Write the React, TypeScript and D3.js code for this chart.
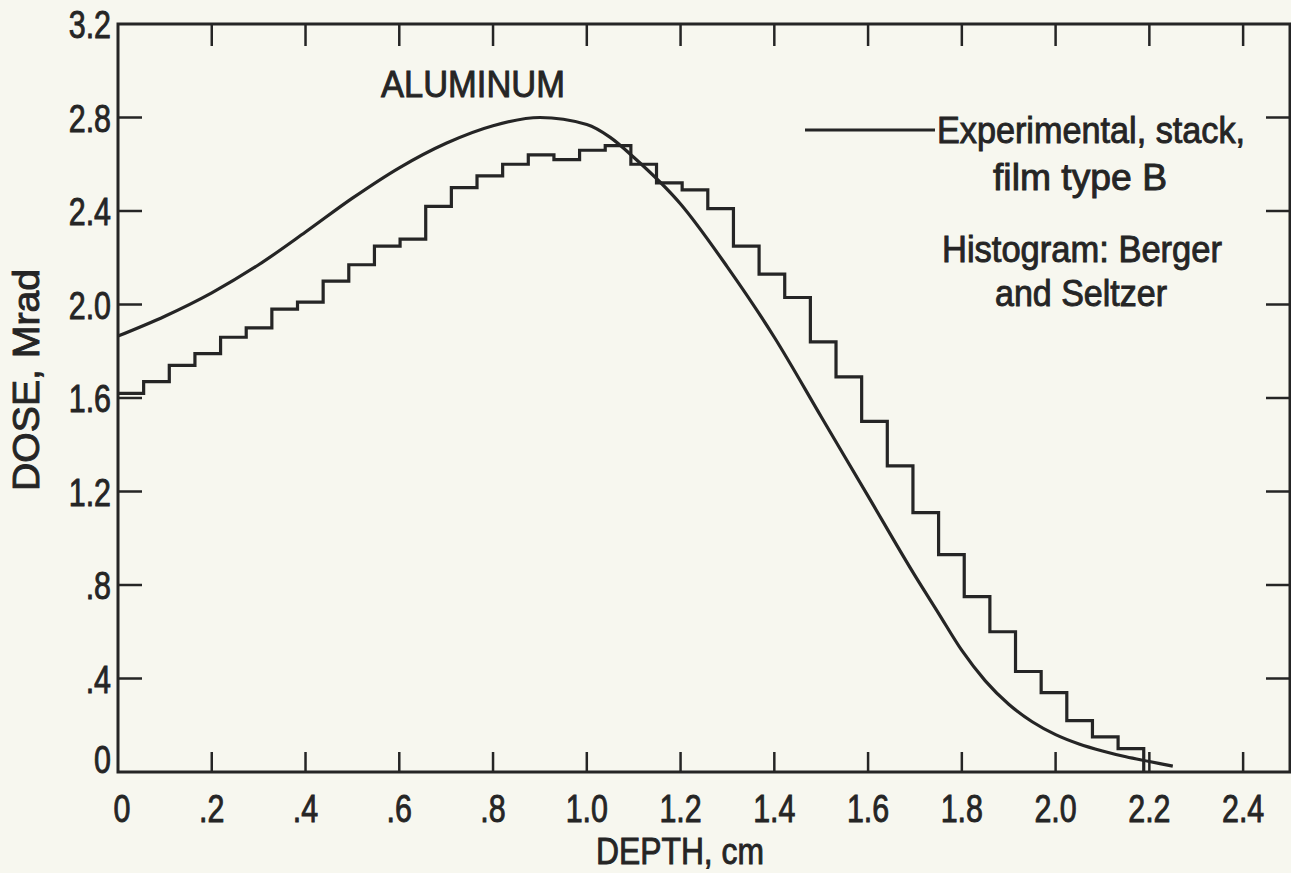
import React from "react";
import * as d3 from "d3";

// ---- data ----
const xTickValues = [0, 0.2, 0.4, 0.6, 0.8, 1.0, 1.2, 1.4, 1.6, 1.8, 2.0, 2.2, 2.4];
const xTickLabels = ["0", ".2", ".4", ".6", ".8", "1.0", "1.2", "1.4", "1.6", "1.8", "2.0", "2.2", "2.4"];
const yTickValues = [0, 0.4, 0.8, 1.2, 1.6, 2.0, 2.4, 2.8, 3.2];
const yTickLabels = ["0", ".4", ".8", "1.2", "1.6", "2.0", "2.4", "2.8", "3.2"];

// Experimental smooth curve (depth cm, dose Mrad)
const curveDepth = [0, 0.1, 0.2, 0.3, 0.4, 0.5, 0.6, 0.7, 0.8, 0.9, 1.0, 1.05, 1.1, 1.2, 1.3, 1.4, 1.5, 1.6, 1.7, 1.75, 1.8, 1.85, 1.9, 1.95, 2.0, 2.05, 2.1, 2.15, 2.2, 2.25];
const curveDose = [1.865, 1.95, 2.05, 2.17, 2.31, 2.455, 2.585, 2.69, 2.765, 2.80, 2.77, 2.715, 2.63, 2.43, 2.16, 1.86, 1.52, 1.18, 0.84, 0.68, 0.52, 0.39, 0.29, 0.215, 0.16, 0.12, 0.09, 0.065, 0.045, 0.025];

// Histogram (Berger and Seltzer): 40 bins
const histBinWidth = 0.0547;
const histDose = [1.62, 1.67, 1.74, 1.79, 1.86, 1.90, 1.98, 2.01, 2.10, 2.17,
  2.25, 2.28, 2.42, 2.50, 2.55, 2.60, 2.64, 2.62, 2.66, 2.68,
  2.60, 2.52, 2.49, 2.41, 2.25, 2.13, 2.03, 1.84, 1.69, 1.50,
  1.31, 1.11, 0.93, 0.75, 0.60, 0.43, 0.34, 0.22, 0.15, 0.10];

const W = 1291, H = 873;
const INK = "#252525";
const BG = "#f7f7ef";
const FONT = "'Liberation Sans', Arial, sans-serif";

export default function App() {
  const x = d3.scaleLinear().domain([0, 2.5]).range([118, 1290]);
  const y = d3.scaleLinear().domain([0, 3.2]).range([772, 24]);

  const curvePts: [number, number][] = curveDepth.map((d, i) => [d, curveDose[i]]);
  const curvePath = d3.line<[number, number]>()
    .x(d => x(d[0])).y(d => y(d[1]))
    .curve(d3.curveMonotoneX)(curvePts) || "";

  const histPts: [number, number][] = histDose.map((v, i) => [i * histBinWidth, v]);
  const histEnd = histDose.length * histBinWidth;
  histPts.push([histEnd, histDose[histDose.length - 1]]);
  const histPath = (d3.line<[number, number]>()
    .x(d => x(d[0])).y(d => y(d[1]))
    .curve(d3.curveStepAfter)(histPts) || "") + `L${x(histEnd)},${y(0)}`;

  const [x0, x1] = x.range();
  const [yb, yt] = y.range();
  const txt = { stroke: INK, strokeWidth: 0.9 };

  return (
    <svg width={W} height={H} style={{ position: "absolute", left: 0, top: 0, background: BG }}
      fontFamily={FONT} fill={INK}>
      <rect x={0} y={0} width={W} height={H} fill={BG} />
      {/* frame */}
      <rect x={x0} y={yt} width={x1 - x0} height={yb - yt} fill="none" stroke={INK} strokeWidth={3} />
      {/* x ticks top & bottom */}
      {xTickValues.slice(1).map((v, i) => (
        <g key={"xt" + i}>
          <line x1={x(v)} x2={x(v)} y1={yb} y2={yb - 20} stroke={INK} strokeWidth={2.5} />
          <line x1={x(v)} x2={x(v)} y1={yt} y2={yt + 22} stroke={INK} strokeWidth={2.5} />
        </g>
      ))}
      {/* y ticks left & right */}
      {yTickValues.slice(1, -1).map((v, i) => (
        <g key={"yt" + i}>
          <line x1={x0} x2={x0 + 24} y1={y(v)} y2={y(v)} stroke={INK} strokeWidth={2.5} />
          <line x1={x1} x2={x1 - 24} y1={y(v)} y2={y(v)} stroke={INK} strokeWidth={2.5} />
        </g>
      ))}
      {/* x tick labels */}
      {xTickValues.map((v, i) => (
        <text key={"xl" + i} transform={`translate(${x(v) + (i === 0 ? 4 : 0)},822) scale(0.8,1)`}
          textAnchor="middle" fontSize={38} {...txt}>{xTickLabels[i]}</text>
      ))}
      {/* y tick labels */}
      {yTickValues.map((v, i) => (
        <text key={"yl" + i} transform={`translate(111,${i === 0 ? 773 : y(v) + 14}) scale(0.8,1)`}
          textAnchor="end" fontSize={38} {...txt}>{yTickLabels[i]}</text>
      ))}
      {/* axis titles */}
      <text x={680} y={864} textAnchor="middle" fontSize={36} textLength={168} lengthAdjust="spacingAndGlyphs" {...txt}>DEPTH, cm</text>
      <text transform="translate(39,380) rotate(-90)" textAnchor="middle" fontSize={36} textLength={222} lengthAdjust="spacingAndGlyphs" {...txt}>DOSE, Mrad</text>
      {/* data */}
      <path d={histPath} fill="none" stroke={INK} strokeWidth={3.2} strokeLinejoin="miter" />
      <path d={curvePath} fill="none" stroke={INK} strokeWidth={3.2} />
      {/* annotations */}
      <text x={381} y={97} fontSize={36} textLength={184} lengthAdjust="spacingAndGlyphs" {...txt}>ALUMINUM</text>
      <line x1={805} x2={935} y1={130} y2={130} stroke={INK} strokeWidth={3} />
      <text x={937} y={143} fontSize={36} textLength={308} lengthAdjust="spacingAndGlyphs" {...txt}>Experimental, stack,</text>
      <text x={993} y={190} fontSize={36} textLength={174} lengthAdjust="spacingAndGlyphs" {...txt}>film type B</text>
      <text x={942} y={262} fontSize={36} textLength={280} lengthAdjust="spacingAndGlyphs" {...txt}>Histogram: Berger</text>
      <text x={995} y={306} fontSize={36} textLength={172} lengthAdjust="spacingAndGlyphs" {...txt}>and Seltzer</text>
    </svg>
  );
}
